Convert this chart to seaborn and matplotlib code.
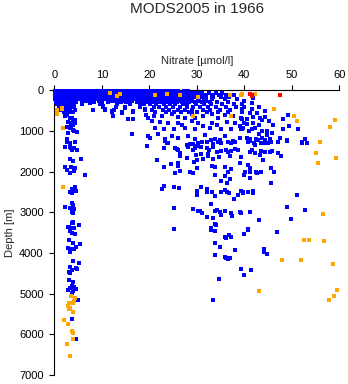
import matplotlib
matplotlib.use("Agg")
import matplotlib.pyplot as plt
import pandas as pd
import seaborn as sns

# ---- Upper water column: nitrate values sampled at near-surface depth levels ----
surface_depths = [5, 55, 110, 165, 220, 255, 290, 340, 400, 470, 540]

row_5m = [0.1, 0.7, 1.3, 1.8, 2.5, 3.1, 3.6, 4.3, 4.9, 5.4, 6.1, 6.6, 7.3, 7.8, 8.5, 9.0,
          9.7, 10.2, 10.9, 11.4, 12.1, 12.7, 13.2, 13.9, 14.5, 15.0, 15.7, 16.3, 16.8,
          17.5, 18.1, 18.6, 19.3, 19.9, 20.4, 21.1, 21.7, 22.2, 22.9, 23.5, 24.0, 24.7,
          25.3, 26.0, 27.4, 28.1]
row_55m = [0.3, 0.9, 1.5, 2.1, 2.7, 3.3, 3.9, 4.6, 5.1, 5.8, 6.3, 7.0, 7.6, 8.1, 8.8, 9.4,
           10.0, 10.6, 11.2, 11.9, 12.4, 13.0, 13.7, 14.2, 14.8, 15.5, 16.0, 16.6, 17.3,
           17.8, 18.4, 19.1, 19.6, 20.2, 20.9, 21.4, 22.0, 22.7, 23.3, 23.8, 24.5, 25.1,
           25.6, 26.3, 27.0, 27.6, 28.3, 29.0, 29.7, 30.5, 31.2, 32.6, 34.0, 35.3]
row_110m = [0.2, 0.8, 1.4, 2.0, 2.6, 3.2, 3.8, 4.4, 5.0, 5.6, 6.2, 6.9, 7.4, 8.0, 8.7, 9.3,
            9.8, 10.5, 11.1, 11.6, 12.3, 12.9, 13.5, 14.1, 14.6, 15.3, 15.9, 16.5, 17.1,
            17.7, 18.3, 18.9, 19.5, 20.1, 20.7, 21.3, 21.9, 22.5, 23.1, 23.7, 24.3, 24.9,
            25.5, 26.2, 26.8, 27.4, 28.1, 28.7, 29.4, 30.1, 31.0, 31.8, 33.1, 34.6, 36.2,
            37.8]
row_165m = [0.1, 0.7, 1.3, 1.9, 2.5, 3.1, 3.7, 4.3, 4.9, 5.5, 6.1, 6.7, 7.3, 7.9, 8.5, 9.1,
            9.7, 10.3, 10.9, 11.5, 12.1, 12.7, 13.3, 13.9, 14.5, 15.1, 15.7, 16.3, 16.9,
            17.5, 18.1, 18.7, 19.3, 19.9, 20.5, 21.1, 21.7, 22.3, 22.9, 23.5, 24.1, 24.7,
            25.3, 25.9, 26.6, 27.2, 27.9, 28.5, 29.3, 30.0, 30.8, 32.0, 33.4, 35.1, 36.8]
row_220m = [0.2, 0.8, 1.4, 2.0, 2.6, 3.2, 3.8, 4.5, 5.2, 5.9, 6.8, 7.6, 8.3, 9.0, 9.9, 10.6,
            11.5, 12.2, 13.0, 13.8, 14.4, 15.3, 16.1, 16.9, 17.6, 18.5, 19.2, 20.0, 20.8,
            21.5, 22.3, 23.1, 23.9, 24.6, 25.4, 26.3, 27.1, 28.0, 29.0, 30.2, 31.5, 33.2,
            36.0, 38.5]
row_255m = [0.4, 1.1, 1.7, 2.3, 3.0, 3.6, 4.2, 6.4, 7.1, 9.4, 11.8, 12.6, 14.7, 16.4, 17.9,
            19.0, 20.3, 21.0, 22.0, 23.4, 24.2, 25.0, 26.5, 27.6, 28.8, 30.5, 32.0]
row_290m = [0.3, 0.9, 1.5, 2.1, 2.7, 3.3, 3.9, 4.6, 5.9, 7.5, 8.4, 10.1, 11.3, 13.1, 14.0,
            15.2, 16.0, 17.4, 18.3, 19.7, 20.6, 21.8, 22.5, 23.9, 24.6, 25.8, 26.9, 28.4,
            29.6, 31.1, 32.7, 34.3, 36.6]
row_340m = [0.6, 1.3, 2.0, 2.7, 3.4, 4.1, 5.8, 9.6, 13.1, 16.0, 18.8, 20.2, 21.5, 23.0,
            24.4, 25.5, 27.2, 28.0, 29.9, 31.6, 33.0, 35.4, 37.8]
row_400m = [1.0, 1.8, 2.6, 3.4, 4.2, 10.3, 12.9, 14.9, 18.0, 20.9, 22.1, 23.6, 25.0, 26.4,
            27.9, 29.2, 30.6, 32.4, 34.0, 36.1, 38.2]
row_470m = [1.5, 2.5, 3.4, 4.4, 8.2, 10.7, 12.6, 19.1, 20.5, 22.8, 24.2, 26.0, 27.6, 29.0,
            31.3, 32.8, 34.9, 37.0]
row_540m = [2.0, 3.0, 4.0, 12.1, 14.2, 16.6, 21.3, 23.6, 25.2, 26.7, 28.3, 30.0, 32.1, 34.4,
            36.5]
surface_rows = [row_5m, row_55m, row_110m, row_165m, row_220m, row_255m,
                row_290m, row_340m, row_400m, row_470m, row_540m]

# ---- Intermediate and deep samples (nitrate, depth) ----
blue_shallow_scatter = [
    (5.8, 339), (7.5, 298), (8.2, 478), (9.6, 339), (10.3, 380), (10.7, 462), (12.1, 503),
    (12.4, 626), (13.1, 339), (14.2, 544), (14.9, 421), (15.6, 708), (16.0, 339),
    (16.6, 503), (16.6, 708), (18.0, 380), (19.1, 462), (19.4, 609), (19.8, 667),
    (20.2, 339), (16.3, 1077), (20.2, 1160),
]
blue_mid = [
    (20.9, 626), (22.6, 626), (24.7, 585), (26.1, 642), (27.5, 667), (28.9, 585),
    (29.6, 667), (31.4, 626), (33.1, 585), (34.5, 667), (35.9, 609), (37.7, 626),
    (39.4, 667), (20.5, 749), (22.3, 774), (24.0, 807), (26.1, 790), (26.8, 856),
    (28.9, 749), (30.3, 807), (31.4, 872), (33.1, 790), (34.2, 856), (36.3, 774),
    (38.0, 807), (39.1, 872), (21.2, 913), (23.0, 954), (25.1, 938), (27.5, 913),
    (29.6, 954), (32.8, 913), (35.2, 938), (37.3, 954), (39.4, 938), (19.8, 1118),
    (21.9, 1077), (23.3, 1201), (24.7, 1118), (26.1, 1160), (28.2, 1118), (29.6, 1201),
    (31.7, 1102), (33.8, 1184), (35.9, 1118), (37.7, 1242), (39.1, 1160), (24.0, 1299),
    (28.6, 1324), (30.3, 1283), (35.2, 1299),
]
blue_high_nitrate = [
    (41.9, 191), (39.9, 256), (39.5, 339), (41.6, 314), (39.9, 396), (39.5, 445),
    (41.6, 445), (43.2, 396), (44.4, 503), (42.6, 544), (41.2, 544), (39.5, 527),
    (41.9, 642), (43.3, 667), (44.4, 642), (39.5, 708), (40.5, 708), (39.9, 790),
    (40.6, 831), (41.9, 790), (43.7, 724), (45.3, 749), (46.1, 856), (43.0, 856),
    (42.3, 913), (39.8, 913), (39.5, 954), (41.6, 954), (40.9, 995), (43.7, 995),
    (44.7, 995), (45.8, 1036), (43.2, 1077), (44.7, 1102), (40.5, 1160), (41.2, 1201),
    (42.5, 1184), (43.7, 1160), (45.4, 1184), (47.5, 1160), (44.4, 1283), (44.9, 1299),
    (42.0, 1299), (49.3, 609), (48.1, 691), (49.5, 872), (48.1, 954), (51.4, 938),
    (48.9, 1217), (52.8, 1201), (53.1, 1283), (52.1, 1299),
]
blue_deep = [
    (23.3, 1233), (23.7, 1283), (23.0, 1422), (25.4, 1422), (26.1, 1463), (26.5, 1529),
    (25.8, 1447), (27.9, 1340), (28.2, 1398), (29.3, 1316), (30.0, 1365), (29.6, 1422),
    (29.1, 1463), (26.5, 1611), (28.0, 1669), (29.8, 1586), (29.4, 1751), (30.0, 1710),
    (21.7, 1710), (24.5, 1808), (26.0, 1792), (26.1, 1857), (23.0, 1890), (25.4, 2038),
    (26.5, 1972), (28.6, 1997), (29.1, 2038), (30.0, 1915), (23.0, 2350), (22.6, 2432),
    (25.1, 2383), (26.3, 2407), (30.0, 2465), (30.0, 2572), (25.1, 2900), (29.1, 2925),
    (30.3, 2957), (25.1, 3417), (19.5, 1355),
    (31.0, 1258), (32.1, 1258), (33.0, 1217), (33.5, 1316), (34.5, 1258), (34.9, 1217),
    (36.6, 1258), (37.3, 1299), (38.0, 1258), (40.8, 1258), (41.2, 1233), (42.2, 1340),
    (42.9, 1217), (43.6, 1299), (44.7, 1299), (44.3, 1217), (45.7, 1258), (47.1, 1258),
    (48.9, 1233), (52.1, 1258), (53.1, 1283),
    (30.9, 1398), (32.1, 1422), (32.5, 1463), (33.5, 1381), (34.2, 1504), (35.2, 1480),
    (36.1, 1463), (36.6, 1504), (37.3, 1480), (38.0, 1447), (38.7, 1463), (41.2, 1504),
    (41.7, 1463), (42.2, 1529), (43.6, 1480), (44.3, 1504), (45.4, 1504), (45.9, 1480),
    (47.1, 1545), (47.7, 1611), (30.9, 1562), (32.4, 1562), (32.3, 1611), (31.4, 1693),
    (33.5, 1693), (34.7, 1627), (37.0, 1611), (39.4, 1644), (43.3, 1586), (44.0, 1709),
    (33.1, 1857), (33.8, 1890), (35.9, 1874), (36.6, 1997), (37.3, 1939), (39.1, 1792),
    (40.7, 1833), (41.2, 1915), (40.1, 1997), (41.2, 2013), (42.4, 1997), (42.6, 2038),
    (43.6, 1997), (45.7, 1915), (46.3, 1997), (33.8, 2079), (35.9, 2104), (40.0, 2079),
    (37.0, 2186), (41.2, 2161), (35.2, 2219), (36.4, 2284), (45.7, 2284), (51.2, 2572),
    (48.9, 2875), (52.8, 2941), (49.9, 3171),
    (30.9, 2366), (32.1, 2432), (32.1, 2490), (33.1, 2490), (33.9, 2596), (35.2, 2490),
    (35.9, 2449), (36.3, 2490), (36.8, 2531), (38.7, 2572), (37.9, 2662), (39.4, 2465),
    (39.8, 2490), (40.8, 2490), (41.9, 2465), (41.9, 2531), (39.8, 2531),
    (33.0, 2793), (30.7, 2957), (31.0, 3007), (32.1, 3105), (33.5, 3146), (33.8, 3286),
    (33.8, 2966), (34.2, 2941), (34.9, 2982), (35.9, 2957), (35.2, 3064), (37.2, 3007),
    (37.5, 3089), (39.1, 2982), (39.4, 3007), (41.2, 2999), (43.1, 3187), (40.7, 3417),
    (33.0, 3392), (33.0, 3433), (33.9, 3450), (34.0, 3310), (35.9, 3597), (36.1, 3622),
    (36.8, 3556), (37.3, 3597), (40.7, 3433), (40.0, 3540), (46.9, 3491), (33.9, 3762),
    (34.9, 3860), (38.0, 3926), (33.9, 4049), (35.9, 4090), (36.1, 4115), (36.6, 4147),
    (37.0, 4131), (44.2, 3901), (44.2, 3967), (44.7, 4032), (39.4, 4402), (40.0, 4542),
    (41.5, 4427), (34.7, 4640), (33.5, 5166),
]
# Low-nitrate column (nitrate, depth)
blue_column = [
    (2.2, 519), (2.6, 601), (3.3, 683), (2.9, 765), (3.7, 790), (4.4, 724), (2.6, 888),
    (3.3, 929), (4.0, 970), (4.7, 1012), (3.9, 847), (4.4, 806), (2.9, 1053),
    (2.3, 626), (3.7, 667), (4.0, 749), (3.5, 872), (4.2, 995), (2.6, 1200), (3.3, 1283),
    (2.6, 1258), (4.4, 1258), (3.3, 1381), (2.3, 1398), (3.7, 1463), (4.7, 1463),
    (3.5, 1422), (4.2, 1422), (3.3, 1693), (4.0, 1734), (5.6, 1693), (2.3, 1874),
    (2.6, 1956), (3.5, 1890), (4.4, 1915), (4.2, 1972), (3.3, 2038), (6.5, 2079),
    (4.4, 2366), (3.7, 2432), (3.3, 2490), (4.2, 2465), (3.7, 2531), (4.6, 2465),
    (3.7, 2777), (4.0, 2826), (3.3, 2900), (2.3, 2859), (4.2, 2925), (3.7, 2982),
    (4.0, 3023), (4.0, 3228), (3.7, 3270), (3.0, 3368), (3.3, 3393), (4.2, 3393),
    (5.3, 3319), (3.9, 3253), (5.3, 3318), (2.9, 3368), (3.7, 3392), (3.3, 3450),
    (3.7, 3515), (4.4, 3532), (3.2, 3680), (3.9, 3745), (5.4, 3786), (2.9, 3868),
    (3.4, 3910), (4.1, 3910), (4.5, 3844), (3.3, 3967), (3.9, 4197), (5.3, 4254),
    (3.3, 4336), (4.6, 4377), (3.7, 4418), (3.2, 4460), (3.4, 4484), (4.7, 4402),
    (3.2, 4665), (4.0, 4714), (3.7, 4804), (4.1, 4829), (3.3, 4870), (2.9, 4911),
    (3.9, 4928), (4.6, 4886), (3.7, 4977), (4.9, 5157), (3.7, 5625), (4.6, 6118),
]
orange_samples = [
    (11.7, 50), (13.8, 90), (13.1, 135), (21.1, 117), (23.7, 92), (26.5, 117),
    (30.3, 150), (37.0, 117), (39.5, 92), (42.3, 76), (39.4, 109),
    (0.5, 480), (1.6, 420), (1.6, 450), (0.6, 585), (1.9, 913), (1.9, 2382),
    (29.1, 626), (37.2, 626), (46.3, 462), (50.5, 626), (51.0, 749), (59.1, 724),
    (58.0, 889), (55.9, 1266), (55.2, 1545), (55.6, 1792), (59.4, 1669), (56.6, 3040),
    (52.5, 3688), (53.7, 3680), (56.8, 3704), (48.0, 4180), (51.9, 4180), (58.7, 4279),
    (43.1, 4936), (59.6, 4911), (58.9, 5050), (57.9, 5166),
    (3.5, 5051), (4.4, 5100), (3.2, 5240), (4.1, 5182), (4.0, 5223), (2.9, 5305),
    (3.3, 5346), (3.1, 5387), (3.9, 5461), (2.1, 5650), (2.9, 5757), (3.7, 5921),
    (3.9, 5962), (4.0, 6118), (2.6, 6249), (3.4, 6537),
]
red_samples = [(41.1, 84), (41.6, 108), (41.6, 133), (47.5, 116)]

x_ticks = [0, 10, 20, 30, 40, 50, 60]
y_ticks = [0, 1000, 2000, 3000, 4000, 5000, 6000, 7000]

# ---- assemble tables ----
blue_pairs = [(n, d) for d, row in zip(surface_depths, surface_rows) for n in row]
blue_pairs += blue_shallow_scatter + blue_mid + blue_high_nitrate + blue_deep + blue_column
blue_df = pd.DataFrame(blue_pairs, columns=["nitrate", "depth"])
orange_df = pd.DataFrame(orange_samples, columns=["nitrate", "depth"])
red_df = pd.DataFrame(red_samples, columns=["nitrate", "depth"])

sns.set_style("white")
plt.rcParams["font.family"] = ["Liberation Sans", "DejaVu Sans"]

fig = plt.figure(figsize=(3.48, 3.84), dpi=100)
ax = fig.add_axes([0.156, 0.0234, 0.819, 0.741])

marker_kw = dict(marker="s", s=5.5, linewidth=0, ax=ax, legend=False, clip_on=False)
for df, col in [(blue_df, "#0000ff"), (orange_df, "#ffa500"), (red_df, "#ff0000")]:
    sns.scatterplot(data=df, x="nitrate", y="depth", color=col, **marker_kw)
for coll in ax.collections:
    coll.set_antialiased(False)
    coll.set_zorder(3)

ax.set_xlim(0, 60)
ax.set_ylim(7000, 0)
ax.set_xticks(x_ticks)
ax.set_yticks(y_ticks)
ax.xaxis.tick_top()
ax.xaxis.set_label_position("top")
for side in ("bottom", "right"):
    ax.spines[side].set_visible(False)
for side in ("top", "left"):
    ax.spines[side].set_color("black")
    ax.spines[side].set_linewidth(0.8)
ax.tick_params(axis="both", direction="out", length=3.6, width=0.8, colors="black",
               labelsize=8, pad=4)
ax.tick_params(axis="x", top=True, bottom=False)
ax.tick_params(axis="y", left=True)
ax.set_xlabel("Nitrate [µmol/l]", fontsize=8, labelpad=4)
ax.set_ylabel("Depth [m]", fontsize=8, labelpad=3)
ax.grid(False)

fig.text(0.566, 0.994, "MODS2005 in 1966", ha="center", va="top", fontsize=11)

fig.savefig("out.png", dpi=100)
